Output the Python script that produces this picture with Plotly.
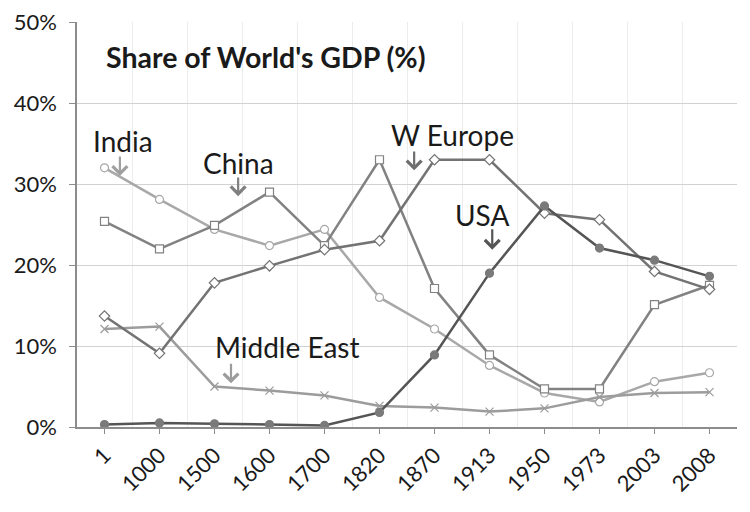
import plotly.graph_objects as go

# categories along the bottom axis
years = ['1', '1000', '1500', '1600', '1700', '1820', '1870', '1913', '1950', '1973', '2003', '2008']

# share of world GDP, as fractions
india = [0.320, 0.281, 0.244, 0.224, 0.244, 0.160, 0.121, 0.076, 0.042, 0.031, 0.056, 0.067]
china = [0.254, 0.220, 0.249, 0.290, 0.224, 0.330, 0.171, 0.089, 0.047, 0.047, 0.151, 0.175]
w_europe = [0.137, 0.091, 0.178, 0.199, 0.219, 0.230, 0.330, 0.330, 0.264, 0.256, 0.192, 0.170]
usa = [0.003, 0.005, 0.004, 0.003, 0.002, 0.018, 0.089, 0.190, 0.273, 0.221, 0.206, 0.186]
middle_east = [0.121, 0.124, 0.050, 0.045, 0.039, 0.026, 0.024, 0.019, 0.023, 0.037, 0.042, 0.043]

xpos = list(range(len(years)))
font = 'Lato, Open Sans, sans-serif'

fig = go.Figure()

# (name, values, line colour, marker symbol, marker fill)
series = [
    ('India', india, '#a8a8a8', 'circle', 'white'),
    ('Middle East', middle_east, '#9c9c9c', 'x-thin-open', '#9c9c9c'),
    ('China', china, '#828282', 'square', 'white'),
    ('W Europe', w_europe, '#737373', 'diamond', 'white'),
    ('USA', usa, '#555555', 'circle', '#7a7a7a'),
]
for name, vals, col, sym, fill in series:
    mline = '#7a7a7a' if name == 'USA' else col
    fig.add_trace(go.Scatter(
        x=xpos, y=vals, name=name, mode='lines+markers',
        line=dict(color=col, width=2.5),
        marker=dict(symbol=sym, size=8, color=fill, line=dict(color=mline, width=1.2)),
    ))

# labels (text x, text y) and arrows (x, y from, y to)
labels = [
    ('India', 0.34, 0.353, 0.28, 0.336, 0.310, '#a0a0a0'),
    ('China', 2.43, 0.326, 2.43, 0.310, 0.285, '#808080'),
    ('W Europe', 6.32, 0.360, 5.63, 0.342, 0.317, '#6e6e6e'),
    ('USA', 6.86, 0.262, 7.05, 0.246, 0.219, '#555555'),
    ('Middle East', 3.32, 0.099, 2.30, 0.080, 0.054, '#9c9c9c'),
]
annotations = []
for txt, tx, ty, arx, ay0, ay1, col in labels:
    annotations.append(dict(x=tx, y=ty, xref='x', yref='y', text=txt, showarrow=False,
                            font=dict(family=font, size=28, color='#1a1a1a')))
    annotations.append(dict(x=arx, y=ay1, ax=arx, ay=ay0, xref='x', yref='y', axref='x', ayref='y',
                            text='', showarrow=True, arrowhead=4, arrowsize=1.3, arrowwidth=2.2,
                            arrowcolor=col))
annotations.append(dict(x=0.041, y=0.914, xref='paper', yref='paper', xanchor='left', yanchor='middle',
                        text="<b>Share of World's GDP (%)</b>", showarrow=False,
                        font=dict(family=font, size=28.5, color='#1a1a1a')))

# the page adds an 8px body margin, so the margins are shifted to compensate
fig.update_layout(
    width=750, height=512,
    margin=dict(l=69, r=21, t=14, b=93),
    plot_bgcolor='white', paper_bgcolor='white',
    showlegend=False,
    font=dict(family=font, size=22, color='#1a1a1a'),
    annotations=annotations,
)
fig.update_xaxes(
    range=[-0.5, len(years) - 0.5], tickvals=xpos, ticktext=years, tickangle=-45,
    showgrid=False, showline=True, linecolor='#8c8c8c', linewidth=1.5,
    ticks='outside', ticklen=5, tickcolor='#8c8c8c',
    minor=dict(tick0=0.5, dtick=1, showgrid=True, gridcolor='#ececec', ticks=''),
    zeroline=False, automargin=False,
)
fig.update_yaxes(
    range=[0, 0.5001], tickvals=[0, 0.1, 0.2, 0.3, 0.4, 0.5], tickformat='.0%',
    showgrid=True, gridcolor='#d2d2d2', gridwidth=1,
    showline=True, linecolor='#8c8c8c', linewidth=1.5,
    ticks='outside', ticklen=6, tickcolor='#8c8c8c', zeroline=False,
    automargin=False, ticklabelstandoff=8, ticklabeloverflow='allow',
)
fig.write_html('out.html')
